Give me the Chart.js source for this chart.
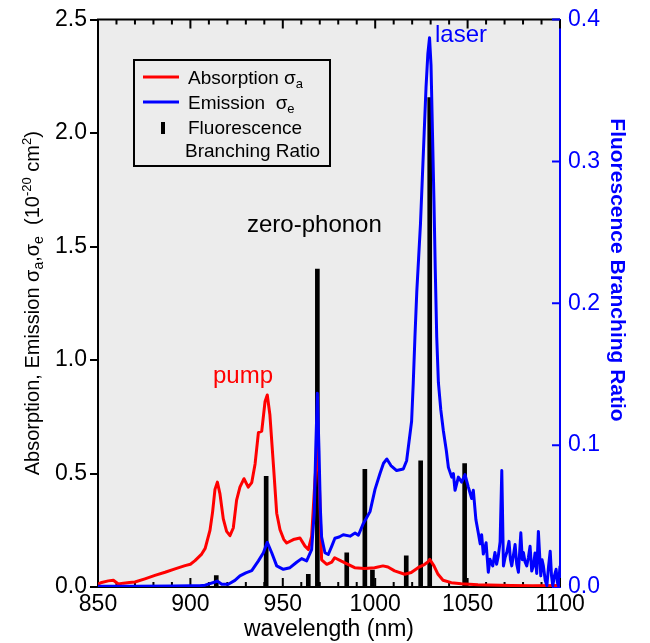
<!DOCTYPE html>
<html>
<head>
<meta charset="utf-8">
<title>Yb absorption / emission cross sections</title>
<script src="https://cdn.jsdelivr.net/npm/chart.js@4.4.1/dist/chart.umd.min.js"></script>
<style>
  html, body { margin: 0; padding: 0; background: #ffffff; }
  #wrap { width: 650px; height: 643px; }
</style>
</head>
<body>
<div id="wrap"><canvas id="chart" width="650" height="643"></canvas></div>
<script>
// ---- data -------------------------------------------------------------
const absorptionWavelength = [850, 852, 855.6, 858.3, 861, 863.7, 867, 870, 875.4, 880.8, 886.3, 891.7, 897.1, 900, 902.5, 906.1, 908, 910.6, 912, 913.3, 914.6, 916, 917.8, 919.6, 921.4, 923.2, 925, 926.8, 929, 931.3, 933.2, 935, 936.8, 938.6, 940.4, 941.6, 943, 944.9, 946.7, 948.5, 950.5, 952.1, 955.7, 959.3, 962, 963.8, 965.6, 967.4, 968.7, 969.8, 971, 973.8, 976.5, 978.1, 981.7, 985.3, 988.9, 994.3, 999.7, 1004.2, 1006.9, 1010.5, 1016, 1019.5, 1023.2, 1026.8, 1028.5, 1029.5, 1031.8, 1034, 1036.7, 1041.2, 1046.6, 1055.6, 1073.6, 1085, 1100];
const absorptionValues = [0.012, 0.02, 0.027, 0.03, 0.013, 0.017, 0.02, 0.022, 0.036, 0.051, 0.065, 0.08, 0.094, 0.1, 0.116, 0.145, 0.17, 0.25, 0.33, 0.43, 0.462, 0.41, 0.3, 0.245, 0.226, 0.26, 0.383, 0.44, 0.477, 0.44, 0.46, 0.542, 0.68, 0.687, 0.817, 0.846, 0.76, 0.54, 0.325, 0.252, 0.21, 0.194, 0.209, 0.216, 0.18, 0.165, 0.223, 0.47, 0.62, 0.45, 0.12, 0.1, 0.11, 0.129, 0.114, 0.1, 0.085, 0.082, 0.085, 0.093, 0.088, 0.071, 0.056, 0.064, 0.085, 0.1, 0.11, 0.122, 0.093, 0.056, 0.03, 0.019, 0.014, 0.01, 0.007, 0.006, 0.007];

const emissionWavelength = [850, 870, 890, 900, 905, 907.9, 910.6, 913.3, 914.6, 917, 920.5, 924.1, 926.8, 930, 933.2, 936.8, 939.5, 941.6, 944, 946.7, 950.3, 953.9, 957.5, 960.2, 962.9, 965.6, 967, 967.8, 968.7, 969.6, 970.3, 971, 972.8, 974.6, 976.5, 978.2, 980.5, 982.7, 986.4, 989.1, 990.9, 993.6, 997.2, 999.9, 1002.6, 1004.5, 1006.3, 1008.5, 1011.6, 1015.2, 1017, 1019.7, 1020.6, 1021.5, 1022.5, 1023.5, 1024.5, 1025.5, 1026.5, 1027.5, 1028.5, 1029.4, 1030.2, 1031, 1031.8, 1032.5, 1033.3, 1034.2, 1035.5, 1036.9, 1038.5, 1039.6, 1041.4, 1042.3, 1043.2, 1045, 1046.8, 1048.6, 1050.4, 1052.2, 1053.1, 1054.5, 1055.8, 1056.8, 1057.6, 1058.5, 1060, 1061.2, 1062.1, 1063.6, 1064.8, 1065.7, 1066.6, 1067.6, 1068.5, 1069.4, 1070.3, 1071.2, 1072.4, 1073.2, 1073.9, 1074.8, 1075.7, 1076.6, 1077.5, 1078.8, 1079.6, 1080.2, 1081.1, 1082, 1082.9, 1083.8, 1084.7, 1085.6, 1086.5, 1087.4, 1088.3, 1089.6, 1090.3, 1091, 1092, 1092.9, 1093.8, 1094.7, 1095.4, 1096.1, 1097, 1097.9, 1098.6, 1099.2, 1100];
const emissionValues = [0.003, 0.003, 0.004, 0.006, 0.006, 0.008, 0.015, 0.022, 0.026, 0.012, 0.012, 0.029, 0.049, 0.062, 0.072, 0.115, 0.151, 0.197, 0.151, 0.093, 0.078, 0.085, 0.109, 0.125, 0.115, 0.165, 0.325, 0.6, 0.853, 0.6, 0.35, 0.22, 0.151, 0.143, 0.18, 0.215, 0.22, 0.23, 0.224, 0.238, 0.228, 0.28, 0.332, 0.43, 0.5, 0.545, 0.564, 0.535, 0.513, 0.52, 0.556, 0.73, 0.9, 1.1, 1.3, 1.45, 1.6, 1.8, 2.0, 2.2, 2.35, 2.42, 2.3, 2.0, 1.7, 1.4, 1.1, 0.9, 0.78, 0.687, 0.6, 0.527, 0.484, 0.5, 0.426, 0.484, 0.462, 0.495, 0.44, 0.39, 0.426, 0.296, 0.238, 0.19, 0.23, 0.145, 0.195, 0.065, 0.122, 0.093, 0.152, 0.1, 0.136, 0.2, 0.513, 0.093, 0.13, 0.152, 0.201, 0.12, 0.093, 0.14, 0.187, 0.1, 0.065, 0.239, 0.12, 0.152, 0.11, 0.093, 0.13, 0.18, 0.07, 0.093, 0.15, 0.06, 0.245, 0.049, 0.12, 0.093, 0.03, 0.006, 0.09, 0.158, 0.05, 0.006, 0.05, 0.078, 0.02, 0.006, 0.093];

const branchingWavelength = [914, 941, 963.8, 968.7, 984.6, 994.4, 998.5, 1016.8, 1024.6, 1029.5, 1048.4];
const branchingRatio = [0.008, 0.078, 0.009, 0.224, 0.024, 0.083, 0.012, 0.022, 0.089, 0.345, 0.087];

const wavelengthTicks = [850, 900, 950, 1000, 1050, 1100];
const crossSectionTicks = [0, 0.5, 1.0, 1.5, 2.0, 2.5];
const ratioTicks = [0, 0.1, 0.2, 0.3, 0.4];
const minorWavelengthStep = 10;

// ---- styling ----------------------------------------------------------
const FONT = "'Liberation Sans', Arial, Helvetica, sans-serif";
const RED = '#ff0000';
const BLUE = '#0000ff';
const PLOT_BG = '#ececec';

const toPoints = (xs, ys) => xs.map((x, i) => ({ x: x, y: ys[i] }));

function richText(ctx, parts, x, y, align) {
  let total = 0;
  parts.forEach(p => {
    ctx.font = (p.bold ? 'bold ' : '') + p.size + 'px ' + FONT;
    p.w = ctx.measureText(p.t).width;
    total += p.w;
  });
  let cx = align === 'center' ? x - total / 2 : x;
  parts.forEach(p => {
    ctx.font = (p.bold ? 'bold ' : '') + p.size + 'px ' + FONT;
    ctx.fillText(p.t, cx, y + (p.dy || 0));
    cx += p.w;
  });
}

const frameAndNotes = {
  id: 'frameAndNotes',
  beforeDraw(chart) {
    const { ctx, chartArea: a } = chart;
    ctx.save();
    ctx.fillStyle = PLOT_BG;
    ctx.fillRect(a.left, a.top, a.right - a.left, a.bottom - a.top);
    ctx.restore();
  },
  beforeDatasetsDraw(chart) {
    const { ctx, chartArea: a, scales } = chart;
    const x = scales.x, y2 = scales.y2;
    ctx.save();
    ctx.lineWidth = 2;
    ctx.strokeStyle = '#000';
    ctx.beginPath();
    ctx.moveTo(a.left - 1, a.top);
    ctx.lineTo(a.right, a.top);
    ctx.stroke();
    // inward wavelength ticks on the bottom and top frame
    ctx.beginPath();
    for (let w = x.min; w <= x.max; w += minorWavelengthStep) {
      const px = x.getPixelForValue(w);
      const len = wavelengthTicks.includes(w) ? 9 : 5;
      ctx.moveTo(px, a.bottom);
      ctx.lineTo(px, a.bottom - len);
      ctx.moveTo(px, a.top);
      ctx.lineTo(px, a.top + len);
    }
    ctx.stroke();
    // inward ticks on the branching-ratio axis
    ctx.strokeStyle = BLUE;
    ctx.beginPath();
    ratioTicks.forEach(v => {
      const py = y2.getPixelForValue(v);
      ctx.moveTo(a.right, py);
      ctx.lineTo(a.right - 8, py);
    });
    ctx.stroke();
    ctx.restore();
  },
  afterDraw(chart) {
    const { ctx, chartArea: a } = chart;
    ctx.save();
    ctx.textBaseline = 'alphabetic';

    // left axis title
    ctx.save();
    ctx.translate(32, (a.top + a.bottom) / 2);
    ctx.rotate(-Math.PI / 2);
    ctx.fillStyle = '#000';
    richText(ctx, [
      { t: 'Absorption, Emission \u03c3', size: 20 },
      { t: 'a', size: 14, dy: 4 },
      { t: ',\u03c3', size: 20 },
      { t: 'e', size: 14, dy: 4 },
      { t: '  (10', size: 20 },
      { t: '-20', size: 13, dy: -8 },
      { t: ' cm', size: 20 },
      { t: '2', size: 13, dy: -8 },
      { t: ')', size: 20 }
    ], 0, 7, 'center');
    ctx.restore();

    // right axis title
    ctx.save();
    ctx.translate(617, 270);
    ctx.rotate(Math.PI / 2);
    ctx.fillStyle = BLUE;
    ctx.font = 'bold 21px ' + FONT;
    ctx.textAlign = 'center';
    ctx.textBaseline = 'middle';
    ctx.fillText('Fluorescence Branching Ratio', 0, 0);
    ctx.restore();

    // peak annotations
    ctx.font = '24px ' + FONT;
    ctx.fillStyle = RED;
    ctx.fillText('pump', 213, 383);
    ctx.fillStyle = '#000';
    ctx.fillText('zero-phonon', 247, 232);
    ctx.fillStyle = BLUE;
    ctx.fillText('laser', 435, 42);

    // legend
    ctx.fillStyle = PLOT_BG;
    ctx.fillRect(134, 60, 196, 106);
    ctx.strokeStyle = '#000';
    ctx.lineWidth = 2;
    ctx.strokeRect(134, 60, 196, 106);
    ctx.lineWidth = 3;
    ctx.strokeStyle = RED;
    ctx.beginPath(); ctx.moveTo(143, 77); ctx.lineTo(179, 77); ctx.stroke();
    ctx.strokeStyle = BLUE;
    ctx.beginPath(); ctx.moveTo(143, 102); ctx.lineTo(179, 102); ctx.stroke();
    ctx.fillStyle = '#000';
    ctx.fillRect(161, 122, 4, 12);
    richText(ctx, [
      { t: 'Absorption \u03c3', size: 19 },
      { t: 'a', size: 13, dy: 4 }
    ], 188, 84, 'left');
    richText(ctx, [
      { t: 'Emission  \u03c3', size: 19 },
      { t: 'e', size: 13, dy: 4 }
    ], 188, 109, 'left');
    ctx.font = '19px ' + FONT;
    ctx.fillText('Fluorescence', 188, 134);
    ctx.fillText('Branching Ratio', 185, 157);
    ctx.restore();
  }
};

const ctx = document.getElementById('chart').getContext('2d');
new Chart(ctx, {
  type: 'line',
  data: {
    datasets: [
      {
        type: 'line',
        label: 'Emission \u03c3e',
        data: toPoints(emissionWavelength, emissionValues),
        borderColor: BLUE,
        borderWidth: 3,
        pointRadius: 0,
        tension: 0,
        borderJoinStyle: 'round',
        yAxisID: 'y',
        order: 1
      },
      {
        type: 'line',
        label: 'Absorption \u03c3a',
        data: toPoints(absorptionWavelength, absorptionValues),
        borderColor: RED,
        borderWidth: 3,
        pointRadius: 0,
        tension: 0,
        borderJoinStyle: 'round',
        yAxisID: 'y',
        order: 2
      },
      {
        type: 'bar',
        label: 'Fluorescence Branching Ratio',
        data: toPoints(branchingWavelength, branchingRatio),
        backgroundColor: '#000000',
        borderWidth: 0,
        barThickness: 4,
        grouped: false,
        yAxisID: 'y2',
        order: 3
      }
    ]
  },
  options: {
    responsive: false,
    animation: false,
    devicePixelRatio: 1,
    layout: { padding: { top: 14, left: 0, right: 0, bottom: 0 } },
    plugins: { legend: { display: false }, tooltip: { enabled: false } },
    scales: {
      x: {
        type: 'linear',
        position: 'bottom',
        min: 850,
        max: 1100,
        offset: false,
        afterBuildTicks: s => { s.ticks = wavelengthTicks.map(v => ({ value: v })); },
        afterFit: s => { s.height = 56; },
        ticks: { color: '#000', font: { family: FONT, size: 23, lineHeight: 1 }, padding: 6, maxRotation: 0, autoSkip: false, callback: v => String(v) },
        grid: { display: false, drawTicks: false },
        border: { display: true, color: '#000', width: 2 },
        title: { display: true, text: 'wavelength (nm)', color: '#000', font: { family: FONT, size: 23, lineHeight: 1.2 }, padding: { top: 0, bottom: 0 } }
      },
      y: {
        position: 'left',
        min: 0,
        max: 2.5,
        afterBuildTicks: s => { s.ticks = crossSectionTicks.map(v => ({ value: v })); },
        afterFit: s => { s.width = 98; },
        ticks: { color: '#000', font: { family: FONT, size: 23, lineHeight: 1 }, padding: 3, callback: v => v.toFixed(1) },
        grid: { display: true, drawOnChartArea: false, drawTicks: true, tickLength: 8, color: '#000', lineWidth: 2 },
        border: { display: true, color: '#000', width: 2 }
      },
      y2: {
        position: 'right',
        min: 0,
        max: 0.4,
        afterBuildTicks: s => { s.ticks = ratioTicks.map(v => ({ value: v })); },
        afterFit: s => { s.width = 90; },
        ticks: { color: BLUE, font: { family: FONT, size: 23, lineHeight: 1 }, padding: 8, callback: v => v.toFixed(1) },
        grid: { display: false, drawOnChartArea: false, drawTicks: false },
        border: { display: true, color: BLUE, width: 2 }
      }
    }
  },
  plugins: [frameAndNotes]
});
</script>
</body>
</html>
